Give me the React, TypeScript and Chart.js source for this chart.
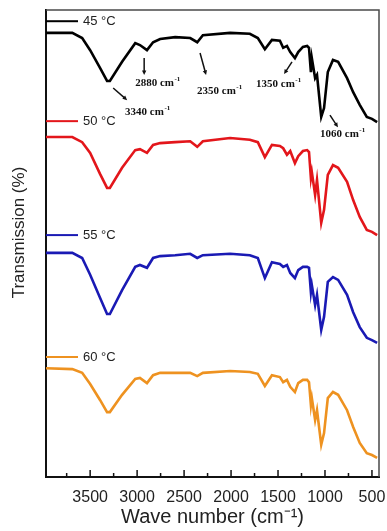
import React, { useEffect, useRef } from "react";
import { Chart, registerables } from "chart.js";

Chart.register(...registerables);

// Wavenumbers (cm-1) shared by all four spectra
const wavenumbers = [3970, 3690, 3585, 3500, 3395, 3320, 3290, 3160, 3020, 2970, 2895, 2830, 2755, 2595, 2435, 2360, 2300, 2010, 1800, 1715, 1640, 1565, 1480, 1445, 1405, 1370, 1320, 1285, 1235, 1190, 1170, 1150, 1140, 1105, 1085, 1040, 1010, 970, 915, 860, 765, 700, 630, 555, 500, 445];

// Transmission (offset, arbitrary units)
const t45 = [95.1, 95.1, 94.0, 91.4, 87.6, 84.8, 84.8, 88.9, 92.9, 92.5, 91.4, 93.1, 93.8, 94.2, 94.0, 93.1, 94.6, 95.1, 94.9, 94.0, 91.6, 93.6, 93.4, 91.9, 92.3, 91.0, 89.7, 91.0, 92.1, 92.3, 91.9, 86.7, 89.7, 85.4, 86.1, 77.1, 79.0, 86.7, 89.3, 88.9, 85.4, 82.4, 79.7, 77.1, 76.7, 76.0];
const t50 = [72.8, 72.8, 71.7, 69.4, 64.9, 61.9, 61.9, 66.2, 70.0, 70.2, 69.4, 71.1, 71.5, 71.7, 71.9, 70.7, 71.9, 72.6, 72.2, 71.7, 68.5, 71.1, 70.9, 70.4, 69.0, 69.8, 67.2, 68.7, 69.8, 70.0, 69.6, 64.0, 65.3, 60.4, 63.6, 54.4, 57.2, 64.7, 66.8, 66.2, 63.2, 59.3, 55.7, 52.9, 52.5, 51.8];
const t55 = [48.0, 48.0, 46.9, 43.3, 38.4, 34.9, 34.9, 40.0, 45.0, 45.4, 44.8, 46.9, 47.3, 47.5, 47.8, 46.9, 47.5, 47.8, 47.5, 46.9, 42.6, 46.0, 45.6, 45.0, 45.4, 43.7, 42.6, 44.3, 45.0, 45.0, 44.8, 39.6, 41.1, 36.8, 39.0, 31.5, 34.3, 41.8, 42.8, 42.2, 39.0, 35.3, 32.1, 29.8, 29.3, 28.7];
const t60 = [23.3, 23.1, 22.3, 19.9, 16.5, 13.9, 13.9, 17.6, 21.0, 21.2, 20.1, 21.8, 22.3, 22.3, 22.3, 21.6, 22.3, 22.7, 22.5, 22.1, 19.5, 21.8, 21.4, 20.3, 20.8, 19.3, 18.2, 20.1, 20.8, 20.8, 20.3, 15.4, 16.9, 12.2, 14.3, 6.9, 9.4, 16.9, 18.2, 17.6, 14.3, 10.7, 7.3, 5.1, 4.7, 4.1];

const seriesLabels = ["45 °C", "50 °C", "55 °C", "60 °C"];
const seriesValues = [t45, t50, t55, t60];
const seriesColors = ["#000000", "#e3161b", "#1a1ab4", "#ee9220"];

const majorTicks = [3500, 3000, 2500, 2000, 1500, 1000, 500];
const minorTicks = [3750, 3250, 2750, 2250, 1750, 1250, 750];

const peakLabels = ["3340", "2880", "2350", "1350", "1060"];

const yTitle = "Transmission (%)";
const xTitle = "Wave number (cm⁻¹)";

const SANS = "'Liberation Sans', Arial, sans-serif";
const SERIF = "'Liberation Serif', 'Times New Roman', serif";

function drawArrow(ctx: CanvasRenderingContext2D, x1: number, y1: number, x2: number, y2: number) {
  const ang = Math.atan2(y2 - y1, x2 - x1);
  const head = 5;
  ctx.save();
  ctx.strokeStyle = "#111";
  ctx.fillStyle = "#111";
  ctx.lineWidth = 1.5;
  ctx.beginPath();
  ctx.moveTo(x1, y1);
  ctx.lineTo(x2 - Math.cos(ang) * head * 0.7, y2 - Math.sin(ang) * head * 0.7);
  ctx.stroke();
  ctx.beginPath();
  ctx.moveTo(x2, y2);
  ctx.lineTo(x2 - head * Math.cos(ang - 0.45), y2 - head * Math.sin(ang - 0.45));
  ctx.lineTo(x2 - head * Math.cos(ang + 0.45), y2 - head * Math.sin(ang + 0.45));
  ctx.closePath();
  ctx.fill();
  ctx.restore();
}

function drawPeakText(ctx: CanvasRenderingContext2D, num: string, x: number, y: number) {
  ctx.save();
  ctx.fillStyle = "#111";
  ctx.textAlign = "left";
  ctx.textBaseline = "middle";
  ctx.font = `bold 11px ${SERIF}`;
  const main = `${num} cm`;
  ctx.fillText(main, x, y);
  const w = ctx.measureText(main).width;
  ctx.font = `bold 7px ${SERIF}`;
  ctx.fillText("-1", x + w + 0.5, y - 4);
  ctx.restore();
}

const decorPlugin = {
  id: "decor",
  afterDraw(chart: any) {
    const ctx: CanvasRenderingContext2D = chart.ctx;
    const { left, right, top, bottom } = chart.chartArea;
    const xs = chart.scales.x;
    const ys = chart.scales.y;
    ctx.save();
    // top and right frame
    ctx.strokeStyle = "#4a4a4a";
    ctx.lineWidth = 1.5;
    ctx.beginPath();
    ctx.moveTo(left, top);
    ctx.lineTo(right, top);
    ctx.lineTo(right, bottom);
    ctx.stroke();
    // inward ticks
    ctx.strokeStyle = "#111";
    ctx.lineWidth = 1.5;
    majorTicks.forEach((v) => {
      const px = xs.getPixelForValue(v);
      ctx.beginPath();
      ctx.moveTo(px, bottom);
      ctx.lineTo(px, bottom - 7);
      ctx.stroke();
    });
    minorTicks.forEach((v) => {
      const px = xs.getPixelForValue(v);
      ctx.beginPath();
      ctx.moveTo(px, bottom);
      ctx.lineTo(px, bottom - 4);
      ctx.stroke();
    });
    // y axis title
    ctx.save();
    ctx.translate(19, (top + bottom) / 2 - 11);
    ctx.rotate(-Math.PI / 2);
    ctx.fillStyle = "#222";
    ctx.font = `17px ${SANS}`;
    ctx.textAlign = "center";
    ctx.textBaseline = "middle";
    ctx.fillText(yTitle, 0, 0);
    ctx.restore();
    // in-plot legend labels
    const legendLevels = [97.6, 76.2, 51.8, 25.7];
    seriesLabels.forEach((lab, i) => {
      const py = ys.getPixelForValue(legendLevels[i]);
      ctx.strokeStyle = seriesColors[i];
      ctx.lineWidth = 2;
      ctx.beginPath();
      ctx.moveTo(left, py);
      ctx.lineTo(left + 32, py);
      ctx.stroke();
      ctx.fillStyle = "#222";
      ctx.font = `13px ${SANS}`;
      ctx.textAlign = "left";
      ctx.textBaseline = "middle";
      ctx.fillText(lab, left + 37, py);
    });
    // peak annotations: [text wn, text value, arrow from wn, v, arrow to wn, v]
    const ann = [
      [3128, 78.2, 3255, 83.3, 3106, 80.7],
      [3021, 84.4, 2925, 89.7, 2925, 86.1],
      [2362, 82.7, 2330, 90.8, 2266, 86.1],
      [1734, 84.2, 1351, 88.9, 1436, 86.3],
      [1053, 73.4, 947, 77.5, 862, 74.9],
    ];
    ann.forEach((a, i) => {
      drawPeakText(ctx, peakLabels[i], xs.getPixelForValue(a[0]), ys.getPixelForValue(a[1]));
      drawArrow(
        ctx,
        xs.getPixelForValue(a[2]),
        ys.getPixelForValue(a[3]),
        xs.getPixelForValue(a[4]),
        ys.getPixelForValue(a[5])
      );
    });
    ctx.restore();
  },
};

export default function App() {
  const canvasRef = useRef<HTMLCanvasElement | null>(null);

  useEffect(() => {
    if (!canvasRef.current) return;
    const datasets = seriesValues.map((vals, i) => ({
      label: seriesLabels[i],
      data: wavenumbers.map((w, j) => ({ x: w, y: vals[j] })),
      borderColor: seriesColors[i],
      backgroundColor: seriesColors[i],
      borderWidth: 2.6,
      pointRadius: 0,
      tension: 0,
      fill: false,
    }));
    const chart = new Chart(canvasRef.current, {
      type: "line",
      data: { datasets },
      options: {
        animation: false,
        responsive: false,
        maintainAspectRatio: false,
        layout: { autoPadding: false, padding: { left: 0, right: 8, top: 10, bottom: 0 } },
        plugins: { legend: { display: false }, tooltip: { enabled: false } },
        scales: {
          x: {
            type: "linear",
            reverse: true,
            min: 425,
            max: 3970,
            afterBuildTicks: (scale: any) => {
              scale.ticks = majorTicks.map((v) => ({ value: v }));
            },
            afterFit: (scale: any) => {
              scale.height = 54;
              scale.paddingLeft = 0;
              scale.paddingRight = 0;
            },
            grid: { display: false, drawTicks: false },
            border: { display: true, color: "#111", width: 2 },
            ticks: {
              autoSkip: false,
              maxRotation: 0,
              color: "#222",
              padding: 11,
              font: { family: SANS, size: 16 },
              callback: (v: any) => String(v),
            },
            title: {
              display: true,
              text: xTitle,
              color: "#222",
              font: { family: SANS, size: 20 },
              padding: { top: 0, bottom: 2 },
            },
          },
          y: {
            type: "linear",
            min: 0,
            max: 100,
            afterFit: (scale: any) => {
              scale.width = 46;
              scale.paddingTop = 0;
              scale.paddingBottom = 0;
            },
            grid: { display: false, drawTicks: false },
            border: { display: true, color: "#111", width: 2 },
            ticks: { display: false },
            title: { display: false },
          },
        },
      },
      plugins: [decorPlugin],
    });
    return () => chart.destroy();
  }, []);

  return (
    <div style={{ position: "fixed", left: 0, top: 0, width: 387, height: 531, background: "#fff" }}>
      <canvas ref={canvasRef} width={387} height={531} style={{ display: "block" }} />
    </div>
  );
}
